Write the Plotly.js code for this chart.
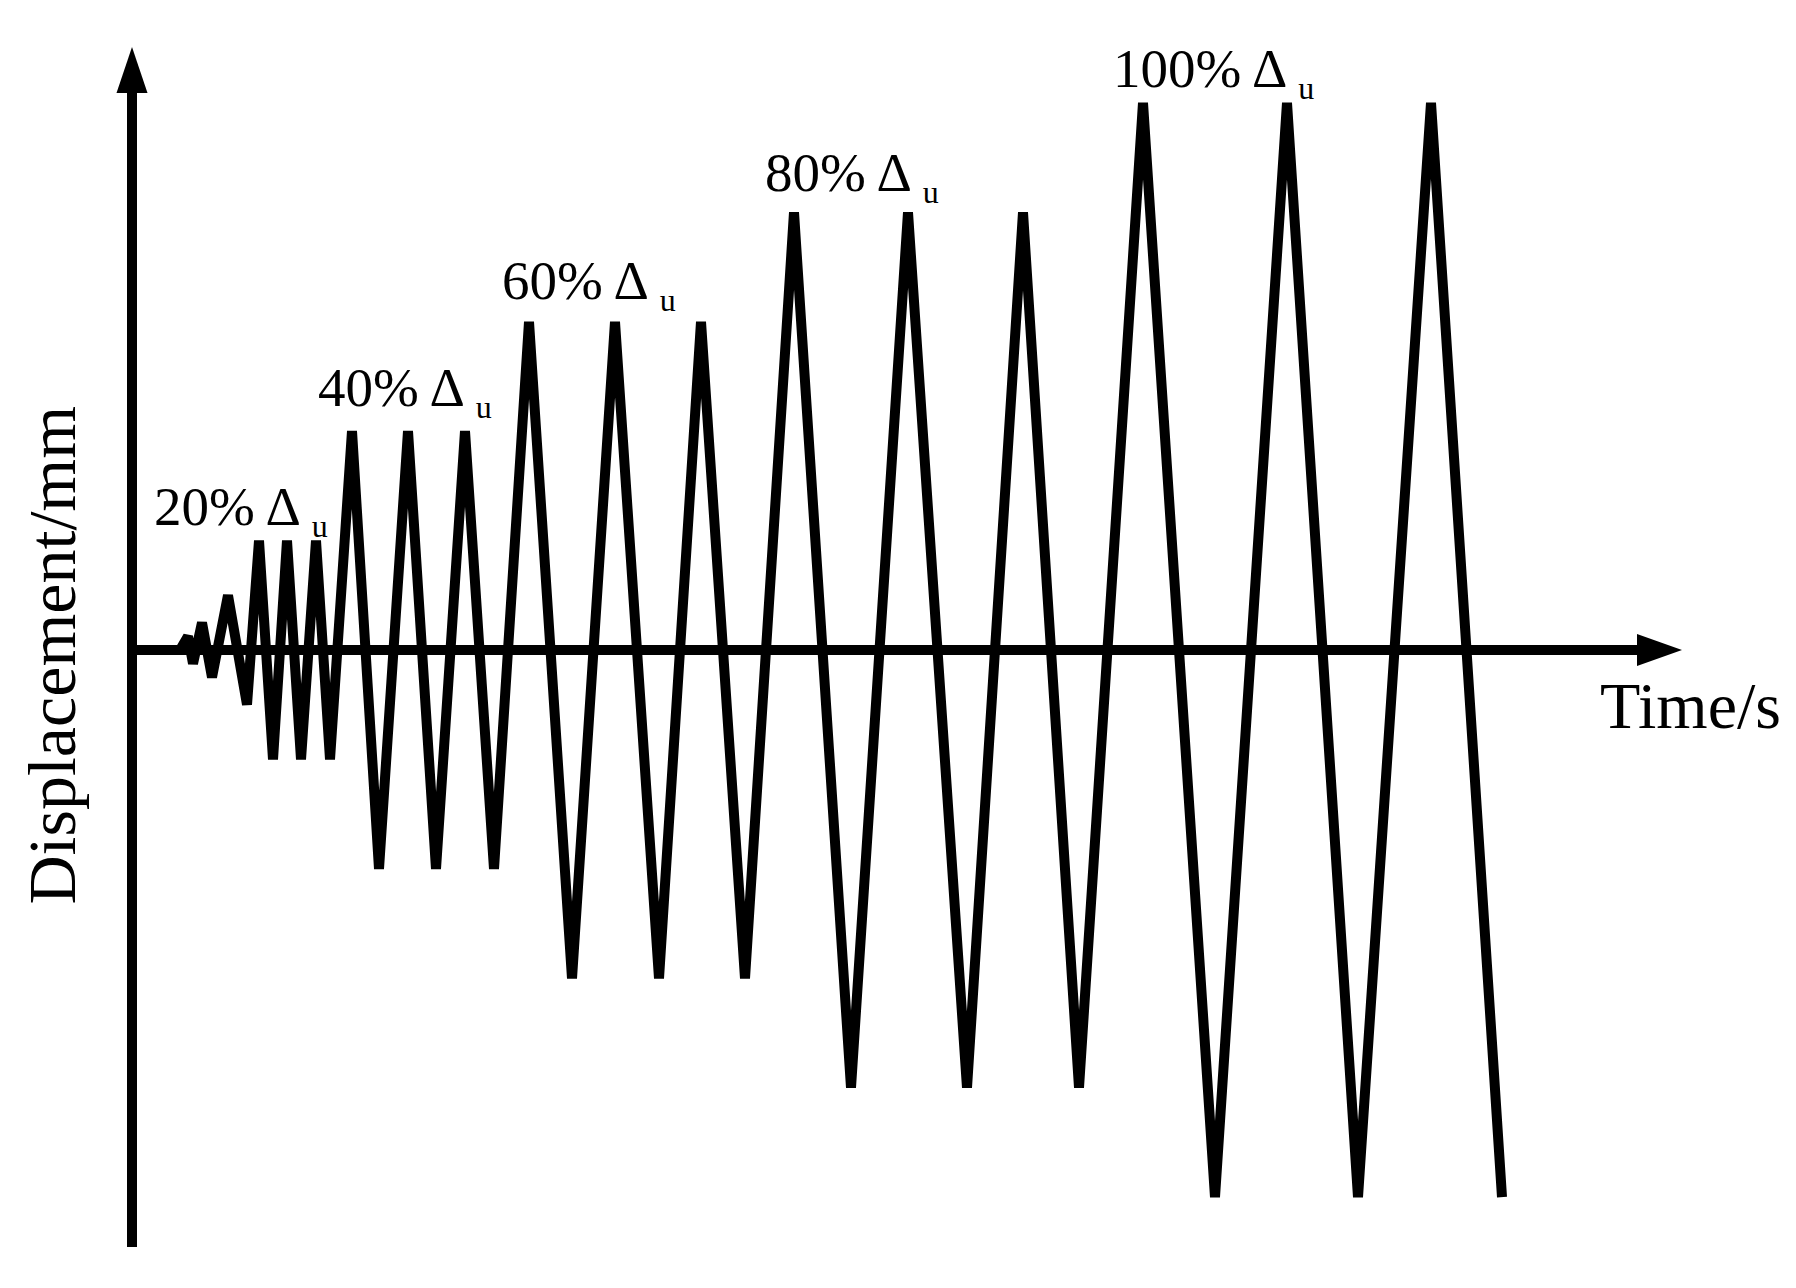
<!DOCTYPE html>
<html>
<head>
<meta charset="utf-8">
<script src="https://cdn.plot.ly/plotly-3.0.1.min.js"></script>
<style>
  html, body { margin: 0; padding: 0; background: #fff; }
  #chart { width: 1796px; height: 1288px; }
</style>
</head>
<body>
<div id="chart"></div>
<script>
// loading protocol: time (s) and displacement (% of ultimate displacement)
const timeS = [
  4.8, 5.6, 6.1, 7.0, 8.0, 9.6, 11.5,
  12.7, 14.1, 15.5, 16.9, 18.4, 19.8,
  22.0, 24.7, 27.6, 30.4, 33.3, 36.2,
  39.7, 44.0, 48.3, 52.7, 56.9, 61.3,
  66.2, 71.9, 77.6, 83.5, 89.1, 94.7,
  101.1, 108.3, 115.5, 122.6, 129.9, 137.0
];
const dispPct = [
  0, 2.5, -2.5, 5, -5, 10, -10,
  20, -20, 20, -20, 20, -20,
  40, -40, 40, -40, 40, -40,
  60, -60, 60, -60, 60, -60,
  80, -80, 80, -80, 80, -80,
  100, -100, 100, -100, 100, -100
];

// level labels
const levelText = ['20%', '40%', '60%', '80%', '100%'];
const levelT = [2.0, 18.4, 36.8, 63.1, 97.9];
const levelY = [25.6, 47.3, 66.9, 86.6, 105.7];

const xTitle = 'Time/s';
const yTitle = 'Displacement/mm';

const serif = 'Liberation Serif, Times New Roman, serif';

const wave = {
  x: timeS,
  y: dispPct,
  type: 'scatter',
  mode: 'lines',
  line: { color: '#000', width: 10 },
  hoverinfo: 'skip',
  cliponaxis: false,
};

const annotations = levelText.map((t, i) => ({
  x: levelT[i],
  y: levelY[i],
  xref: 'x',
  yref: 'y',
  xanchor: 'left',
  yanchor: 'middle',
  showarrow: false,
  text: t + ' Δ <sub><span style="font-size:32px">u</span></sub>',
  font: { family: serif, size: 55, color: '#000' },
}));

// axis titles
annotations.push({
  x: 146.6, y: -10.2, xref: 'x', yref: 'y',
  xanchor: 'left', yanchor: 'middle', showarrow: false,
  text: xTitle,
  font: { family: serif, size: 66, color: '#000' },
});
annotations.push({
  x: -8.0, y: -1.0, xref: 'x', yref: 'y',
  xanchor: 'center', yanchor: 'middle', showarrow: false,
  textangle: -90,
  text: yTitle,
  font: { family: serif, size: 68, color: '#000' },
});

// hand-drawn style axes with arrowheads
const shapes = [
  { type: 'line', xref: 'x', yref: 'y', x0: 0, x1: 0, y0: -109.1, y1: 102.8,
    line: { color: '#000', width: 10 } },
  { type: 'path', xref: 'x', yref: 'y', path: 'M -1.55,101.8 L 0,110.2 L 1.55,101.8 Z',
    fillcolor: '#000', line: { color: '#000', width: 0 } },
  { type: 'line', xref: 'x', yref: 'y', x0: -0.5, x1: 151.5, y0: 0, y1: 0,
    line: { color: '#000', width: 10 } },
  { type: 'path', xref: 'x', yref: 'y', path: 'M 150.5,2.93 L 155.0,0 L 150.5,-2.93 Z',
    fillcolor: '#000', line: { color: '#000', width: 0 } },
];

const layout = {
  width: 1796,
  height: 1288,
  margin: { l: 0, r: 0, t: 0, b: 0 },
  paper_bgcolor: '#fff',
  plot_bgcolor: '#fff',
  showlegend: false,
  xaxis: { range: [-13.2, 166.4], visible: false, fixedrange: true },
  yaxis: { range: [-116.6, 118.8], visible: false, fixedrange: true },
  shapes: shapes,
  annotations: annotations,
  font: { family: serif, color: '#000' },
};

Plotly.newPlot('chart', [wave], layout, { staticPlot: true });
</script>
</body>
</html>
